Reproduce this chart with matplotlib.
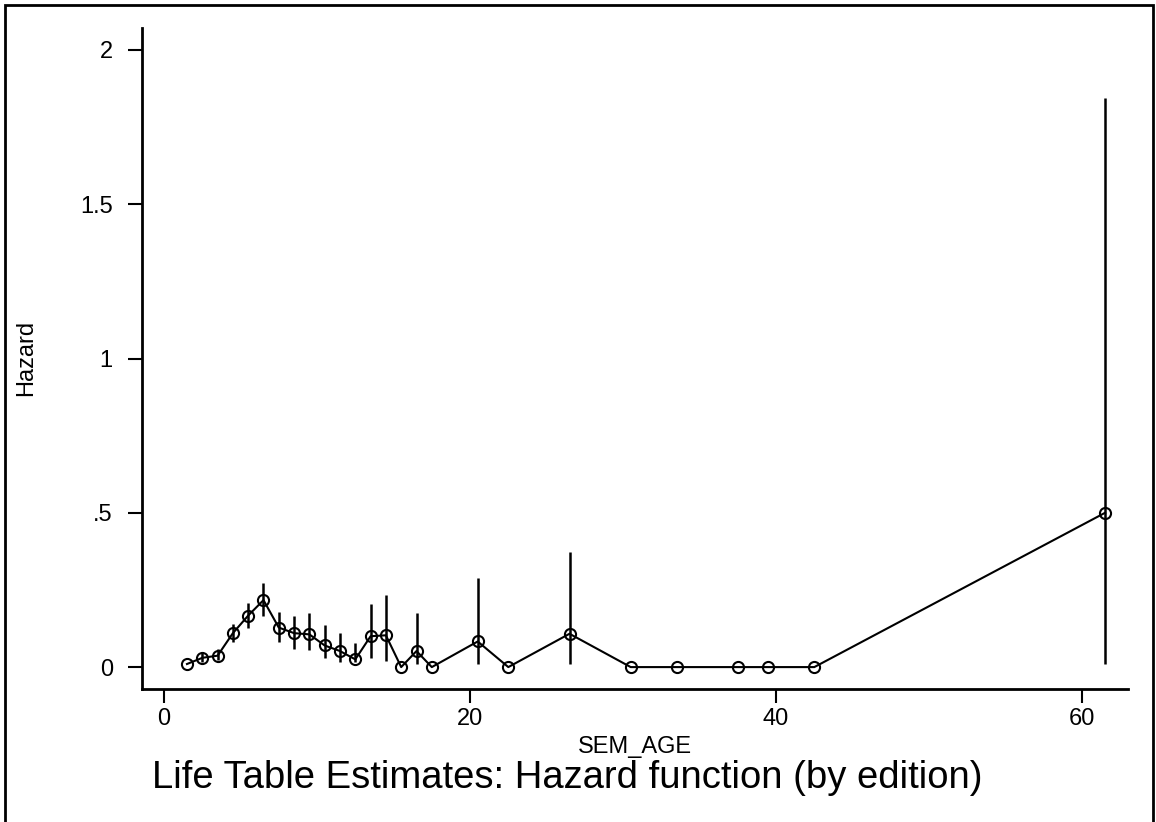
import matplotlib
matplotlib.use('Agg')
import matplotlib.pyplot as plt
from matplotlib.patches import Rectangle
import numpy as np

plt.rcParams['font.family'] = ['Liberation Sans', 'DejaVu Sans']

# life table hazard estimates
sem_age = [1.5, 2.5, 3.5, 4.5, 5.5, 6.5, 7.5, 8.5, 9.5, 10.5, 11.5, 12.5, 13.5,
           14.5, 15.5, 16.5, 17.5, 20.5, 22.5, 26.5, 30.5, 33.5, 37.5, 39.5,
           42.5, 61.5]
hazard = [0.01, 0.03, 0.037, 0.11, 0.167, 0.217, 0.128, 0.11, 0.106, 0.07,
          0.052, 0.025, 0.1, 0.103, 0.0, 0.052, 0.0, 0.083, 0.0, 0.108,
          0.0, 0.0, 0.0, 0.0, 0.0, 0.5]
ci_low = [np.nan, 0.018, 0.022, 0.08, 0.126, 0.164, 0.08, 0.06, 0.055, 0.028,
          0.017, 0.015, 0.028, 0.02, np.nan, 0.01, np.nan, 0.01, np.nan, 0.01,
          np.nan, np.nan, np.nan, np.nan, np.nan, 0.01]
ci_high = [np.nan, 0.05, 0.058, 0.141, 0.207, 0.271, 0.18, 0.166, 0.174, 0.136,
           0.11, 0.077, 0.206, 0.233, np.nan, 0.174, np.nan, 0.29, np.nan, 0.374,
           np.nan, np.nan, np.nan, np.nan, np.nan, 1.845]

y_ticks = [0, 0.5, 1, 1.5, 2]
y_labels = ['0', '.5', '1', '1.5', '2']
x_ticks = [0, 20, 40, 60]

W, H = 1156, 822
fig = plt.figure(figsize=(W / 100, H / 100), dpi=100)
ax = fig.add_axes([142 / W, 1 - 689 / H, (1128 - 142) / W, (689 - 28) / H])

x = np.array(sem_age)
lo = np.array(ci_low)
hi = np.array(ci_high)
ok = ~np.isnan(lo)
ax.vlines(x[ok], lo[ok], hi[ok], color='black', lw=1.8)
ax.plot(sem_age, hazard, color='black', lw=1.5, marker='o', markersize=8,
        markerfacecolor='none', markeredgecolor='black', markeredgewidth=1.5)

ax.set_xlim(-1.44, 63.0)
ax.set_ylim(-0.071, 2.071)
ax.set_xticks(x_ticks)
ax.set_yticks(y_ticks)
ax.set_yticklabels(y_labels)
ax.tick_params(axis='both', direction='out', length=10, width=1.5,
               labelsize=17, colors='black')
ax.tick_params(axis='y', pad=11)
ax.tick_params(axis='x', pad=4)
for side in ['top', 'right']:
    ax.spines[side].set_visible(False)
for side in ['left', 'bottom']:
    ax.spines[side].set_linewidth(2)

ax.set_xlabel('SEM_AGE', fontsize=17, labelpad=4)
fig.text(26 / W, 1 - 358 / H, 'Hazard', fontsize=17, rotation=90,
         ha='center', va='center')

fig.text(567 / W, 1 - 788 / H, 'Life Table Estimates: Hazard function (by edition)',
         fontsize=27.5, ha='center', va='baseline')

# outer frame of the graph region (bottom edge runs off the image)
fig.add_artist(Rectangle((5 / W, -0.1), (1153 - 5) / W, 1.1 - 5 / H,
                         transform=fig.transFigure, fill=False,
                         edgecolor='black', lw=2))

fig.savefig('out.png', dpi=100, facecolor='white')
